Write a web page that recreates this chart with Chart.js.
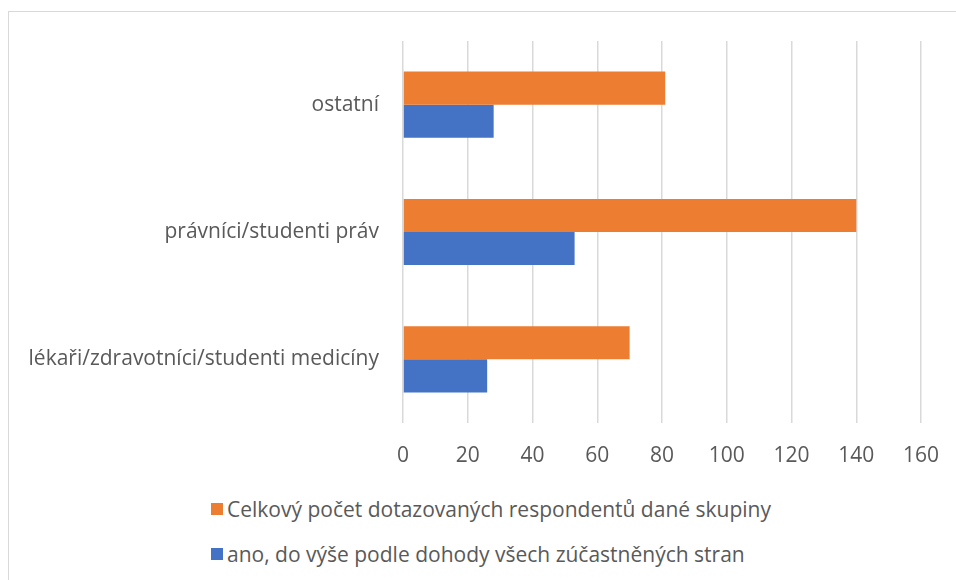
<!DOCTYPE html>
<html>
<head>
<meta charset="utf-8">
<script src="https://cdn.jsdelivr.net/npm/chart.js@4"></script>
<style>
    html, body { margin: 0; padding: 0; background: #fff; overflow: hidden; width: 956px; height: 580px; }
    #frame { position: absolute; left: 8px; top: 11px; width: 1000px; height: 700px; border: 1.5px solid #d9d9d9; }
    #wrap { position: absolute; left: 0; top: 0; width: 956px; height: 480px; }
    #legend { position: absolute; left: 211px; top: 495px; font-family: "Open Sans", sans-serif; font-size: 21px; color: #595959; }
    #legend .item { display: flex; align-items: center; height: 28px; margin-bottom: 17px; white-space: nowrap; }
    #legend .box { width: 12px; height: 12px; margin-right: 4px; flex: none; }
</style>
</head>
<body>
<div id="frame"></div>
<div id="wrap"><canvas id="chart"></canvas></div>
<div id="legend"></div>
<script>
// Czech survey chart data
const categories = ['ostatní', 'právníci/studenti práv', 'lékaři/zdravotníci/studenti medicíny'];
const celkemValues = [81, 140, 70];
const anoValues = [28, 53, 26];
const seriesNames = [
    'Celkový počet dotazovaných respondentů dané skupiny',
    'ano, do výše podle dohody všech zúčastněných stran'
];
const xTicks = [0, 20, 40, 60, 80, 100, 120, 140, 160];

const textColor = '#595959';
const fontFamily = '"Open Sans", sans-serif';

const chart = new Chart(document.getElementById('chart'), {
    type: 'bar',
    data: {
        labels: categories,
        datasets: [{
            label: seriesNames[0],
            data: celkemValues,
            backgroundColor: '#ED7D31',
            barPercentage: 1,
            categoryPercentage: 0.52
        }, {
            label: seriesNames[1],
            data: anoValues,
            backgroundColor: '#4472C4',
            barPercentage: 1,
            categoryPercentage: 0.52
        }]
    },
    options: {
        indexAxis: 'y',
        responsive: true,
        maintainAspectRatio: false,
        animation: false,
        layout: { padding: { top: 41, right: 35, left: 0, bottom: 0 } },
        plugins: {
            legend: { display: false },
            tooltip: { enabled: false }
        },
        scales: {
            x: {
                min: 0,
                max: 160,
                afterBuildTicks: function (scale) {
                    scale.ticks = xTicks.map(function (v) { return { value: v }; });
                },
                afterFit: function (scale) {
                    scale.height = 57;
                    scale.paddingLeft = 0;
                    scale.paddingRight = 0;
                },
                grid: { color: '#d9d9d9', lineWidth: 1.5, drawTicks: false },
                border: { display: false },
                ticks: { color: textColor, font: { family: fontFamily, size: 21 }, padding: 20 }
            },
            y: {
                afterFit: function (scale) { scale.width = 403; },
                grid: { display: false },
                border: { display: false },
                ticks: { color: textColor, font: { family: fontFamily, size: 21 }, padding: 16 }
            }
        }
    }
});

// legend as html so both rows start at the same left edge
const legendEl = document.getElementById('legend');
chart.data.datasets.forEach(function (ds) {
    const item = document.createElement('div');
    item.className = 'item';
    const box = document.createElement('span');
    box.className = 'box';
    box.style.background = ds.backgroundColor;
    const txt = document.createElement('span');
    txt.textContent = ds.label;
    item.appendChild(box);
    item.appendChild(txt);
    legendEl.appendChild(item);
});
</script>
</body>
</html>
